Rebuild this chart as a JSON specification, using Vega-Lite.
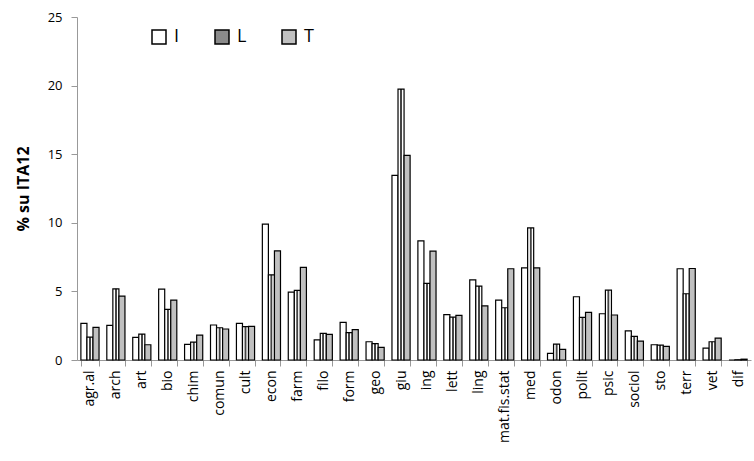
{
  "$schema": "https://vega.github.io/schema/vega-lite/v6.json",
  "width": 674,
  "height": 343,
  "autosize": "none",
  "padding": {"left": 77, "top": 17, "right": 3, "bottom": 101},
  "background": "white",
  "config": {"view": {"stroke": null}, "font": "Open Sans"},
  "data": {"values": [
    {"c":"agr.al","s":"I","v":2.67},{"c":"agr.al","s":"L","v":1.67},{"c":"agr.al","s":"T","v":2.38},
    {"c":"arch","s":"I","v":2.52},{"c":"arch","s":"L","v":5.19},{"c":"arch","s":"T","v":4.66},
    {"c":"art","s":"I","v":1.65},{"c":"art","s":"L","v":1.89},{"c":"art","s":"T","v":1.11},
    {"c":"bio","s":"I","v":5.17},{"c":"bio","s":"L","v":3.69},{"c":"bio","s":"T","v":4.37},
    {"c":"chim","s":"I","v":1.14},{"c":"chim","s":"L","v":1.31},{"c":"chim","s":"T","v":1.82},
    {"c":"comun","s":"I","v":2.55},{"c":"comun","s":"L","v":2.35},{"c":"comun","s":"T","v":2.26},
    {"c":"cult","s":"I","v":2.67},{"c":"cult","s":"L","v":2.43},{"c":"cult","s":"T","v":2.45},
    {"c":"econ","s":"I","v":9.9},{"c":"econ","s":"L","v":6.21},{"c":"econ","s":"T","v":7.96},
    {"c":"farm","s":"I","v":4.95},{"c":"farm","s":"L","v":5.07},{"c":"farm","s":"T","v":6.75},
    {"c":"filo","s":"I","v":1.46},{"c":"filo","s":"L","v":1.94},{"c":"filo","s":"T","v":1.87},
    {"c":"form","s":"I","v":2.74},{"c":"form","s":"L","v":1.99},{"c":"form","s":"T","v":2.21},
    {"c":"geo","s":"I","v":1.33},{"c":"geo","s":"L","v":1.19},{"c":"geo","s":"T","v":0.92},
    {"c":"giu","s":"I","v":13.46},{"c":"giu","s":"L","v":19.75},{"c":"giu","s":"T","v":14.92},
    {"c":"ing","s":"I","v":8.68},{"c":"ing","s":"L","v":5.58},{"c":"ing","s":"T","v":7.93},
    {"c":"lett","s":"I","v":3.3},{"c":"lett","s":"L","v":3.13},{"c":"lett","s":"T","v":3.25},
    {"c":"ling","s":"I","v":5.84},{"c":"ling","s":"L","v":5.39},{"c":"ling","s":"T","v":3.95},
    {"c":"mat.fis.stat","s":"I","v":4.37},{"c":"mat.fis.stat","s":"L","v":3.81},{"c":"mat.fis.stat","s":"T","v":6.65},
    {"c":"med","s":"I","v":6.72},{"c":"med","s":"L","v":9.63},{"c":"med","s":"T","v":6.72},
    {"c":"odon","s":"I","v":0.49},{"c":"odon","s":"L","v":1.16},{"c":"odon","s":"T","v":0.78},
    {"c":"polit","s":"I","v":4.61},{"c":"polit","s":"L","v":3.11},{"c":"polit","s":"T","v":3.47},
    {"c":"psic","s":"I","v":3.37},{"c":"psic","s":"L","v":5.09},{"c":"psic","s":"T","v":3.28},
    {"c":"sociol","s":"I","v":2.13},{"c":"sociol","s":"L","v":1.72},{"c":"sociol","s":"T","v":1.38},
    {"c":"sto","s":"I","v":1.11},{"c":"sto","s":"L","v":1.09},{"c":"sto","s":"T","v":1.0},
    {"c":"terr","s":"I","v":6.65},{"c":"terr","s":"L","v":4.83},{"c":"terr","s":"T","v":6.67},
    {"c":"vet","s":"I","v":0.87},{"c":"vet","s":"L","v":1.33},{"c":"vet","s":"T","v":1.6},
    {"c":"dif","s":"I","v":0.0},{"c":"dif","s":"L","v":0.02},{"c":"dif","s":"T","v":0.06}
  ]},
  "mark": {"type": "bar", "stroke": "black", "strokeWidth": 1.2},
  "encoding": {
    "x": {
      "field": "c", "type": "nominal", "sort": null,
      "scale": {"paddingInner": 0.3, "paddingOuter": 0.15},
      "axis": {
        "title": null, "labelAngle": -90, "labelFontSize": 14, "labelColor": "black",
        "tickBand": "extent", "tickSize": 6, "tickColor": "#999999", "domainColor": "#999999",
        "labelPadding": 4
      }
    },
    "xOffset": {"field": "s", "type": "nominal", "sort": ["I", "L", "T"]},
    "y": {
      "field": "v", "type": "quantitative",
      "scale": {"domain": [0, 25], "nice": false},
      "axis": {
        "title": "% su ITA12", "titleFontSize": 16, "titleFontWeight": "bold", "titleColor": "black",
        "values": [0, 5, 10, 15, 20, 25], "grid": false, "labelFontSize": 13, "labelColor": "black",
        "tickSize": 6, "tickColor": "#999999", "domainColor": "#999999", "labelPadding": 9, "titlePadding": 16
      }
    },
    "fill": {
      "condition": {"test": "datum.s === 'L'", "value": {"gradient": "linear", "x1": 0, "y1": 0, "x2": 1, "y2": 0, "stops": [
          {"offset": 0, "color": "#ffffff"}, {"offset": 0.3, "color": "#ffffff"},
          {"offset": 0.38, "color": "#444444"}, {"offset": 0.62, "color": "#444444"},
          {"offset": 0.7, "color": "#ffffff"}, {"offset": 1, "color": "#ffffff"}
        ]}},
      "field": "s", "type": "nominal",
      "scale": {"domain": ["I", "L", "T"], "range": ["#ffffff", "#8a8a8a", "#c0c0c0"]},
      "legend": {
        "title": null, "orient": "none", "legendX": 73, "legendY": 11, "direction": "horizontal",
        "symbolType": "square", "symbolSize": 196,
        "labelFontSize": 18, "labelColor": "black", "labelOffset": 6, "columnPadding": 32, "padding": 0,
        "encode": {"symbols": {"update": {
          "stroke": {"value": "black"},
          "strokeWidth": {"value": 1.5}
        }}}
      }
    }
  }
}
